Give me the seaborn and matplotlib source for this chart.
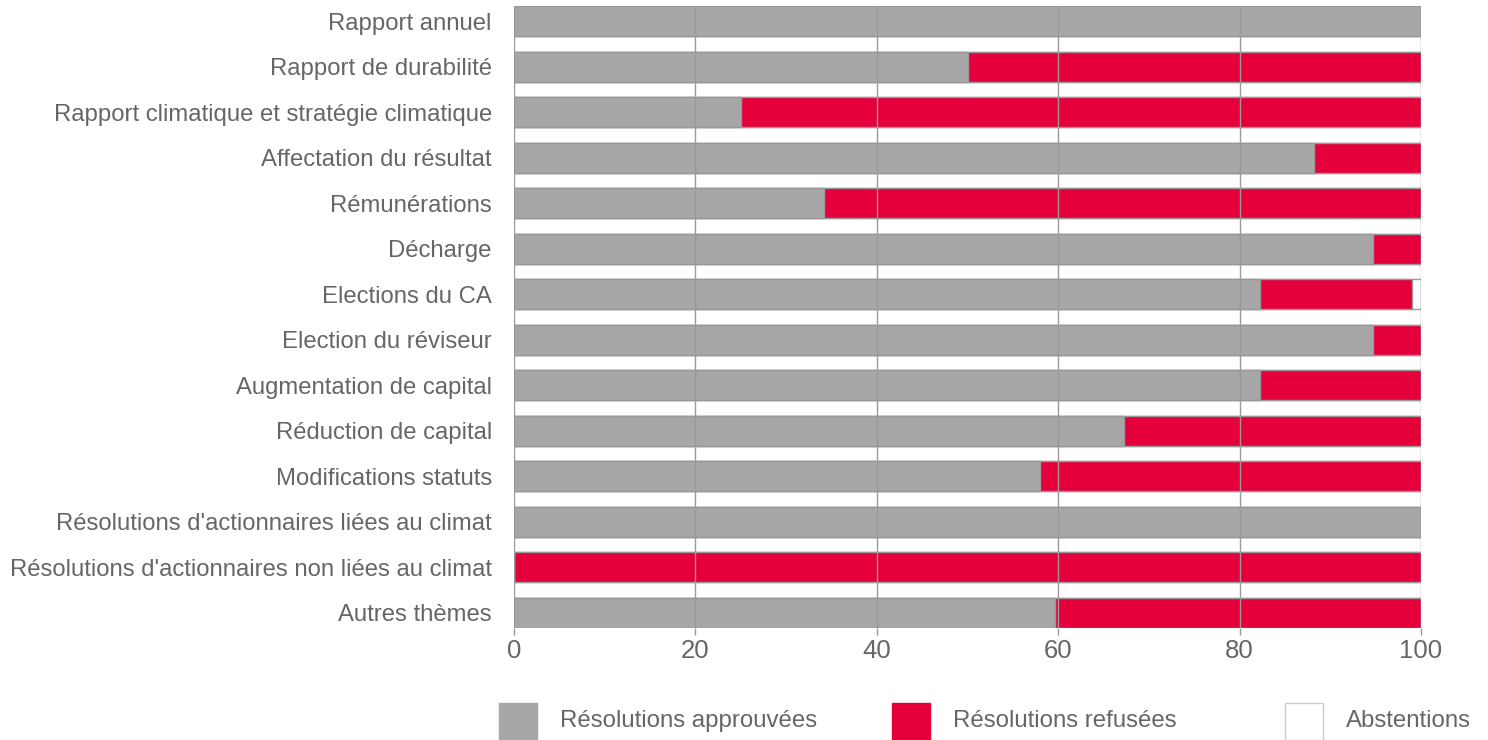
import matplotlib
matplotlib.use("Agg")
import matplotlib.pyplot as plt
from matplotlib.patches import Rectangle
import pandas as pd
import seaborn as sns

categories = [
    "Rapport annuel",
    "Rapport de durabilité",
    "Rapport climatique et stratégie climatique",
    "Affectation du résultat",
    "Rémunérations",
    "Décharge",
    "Elections du CA",
    "Election du réviseur",
    "Augmentation de capital",
    "Réduction de capital",
    "Modifications statuts",
    "Résolutions d'actionnaires liées au climat",
    "Résolutions d'actionnaires non liées au climat",
    "Autres thèmes",
]
approved = [100, 50, 25, 88.2, 34.2, 94.7, 82.2, 94.7, 82.2, 67.3, 58.0, 100, 0, 59.7]
refused = [0, 50, 75, 11.8, 65.8, 5.3, 16.8, 5.3, 17.8, 32.7, 42.0, 0, 100, 40.3]
abstentions = [0, 0, 0, 0, 0, 0, 1.0, 0, 0, 0, 0, 0, 0, 0]
x_ticks = [0, 20, 40, 60, 80, 100]
legend_labels = ["Résolutions approuvées", "Résolutions refusées", "Abstentions"]

GREY = "#a7a7a7"
RED = "#e5003b"
EDGE = "#999999"
TEXT = "#666666"

df = pd.DataFrame({
    "category": categories,
    "approved": approved,
    "refused": refused,
    "abstentions": abstentions,
})
df["cum_refused"] = df["approved"] + df["refused"]
df["cum_total"] = df["cum_refused"] + df["abstentions"]

sns.set_style("white")
plt.rcParams["font.family"] = ["Liberation Sans", "DejaVu Sans"]

fig = plt.figure(figsize=(14.88, 7.4), dpi=100)
ax = fig.add_axes([514 / 1488, 1 - 628 / 740, (1421 - 514) / 1488, (628 - 6) / 740])

# stacked bars: draw cumulative totals from the back to the front
layers = [("cum_total", "white"), ("cum_refused", RED), ("approved", GREY)]
for column, colour in layers:
    sns.barplot(
        data=df,
        x=column,
        y="category",
        orient="h",
        color=colour,
        saturation=1,
        width=0.66,
        edgecolor=EDGE,
        linewidth=1,
        ax=ax,
    )

ax.set_xlim(0, 100)
ax.set_ylim(13.33, -0.34)
ax.set_xticks(x_ticks)
ax.set_xlabel("")
ax.set_ylabel("")
ax.grid(axis="x", color=EDGE, linewidth=1)
ax.grid(axis="y", visible=False)
ax.set_axisbelow(False)
for spine in ax.spines.values():
    spine.set_visible(False)

ax.tick_params(axis="y", length=0, pad=16, labelsize=17.2, labelcolor=TEXT)
ax.tick_params(axis="x", length=5, width=1, color=EDGE, direction="out",
               pad=3, labelsize=18.5, labelcolor=TEXT, bottom=True)

# legend: three evenly spaced swatches below the chart
legend_colours = [GREY, RED, "white"]
swatch_x = [499, 892, 1285]
for label, colour, x0 in zip(legend_labels, legend_colours, swatch_x):
    fig.add_artist(Rectangle(
        (x0 / 1488, 1 - 740 / 740), 38 / 1488, 37 / 740,
        transform=fig.transFigure, facecolor=colour,
        edgecolor="#cccccc" if colour == "white" else colour, linewidth=1,
    ))
    fig.text((x0 + 61) / 1488, 1 - 721 / 740, label, fontsize=17.3,
             color=TEXT, va="center", ha="left")

fig.savefig("out.png", dpi=100)
